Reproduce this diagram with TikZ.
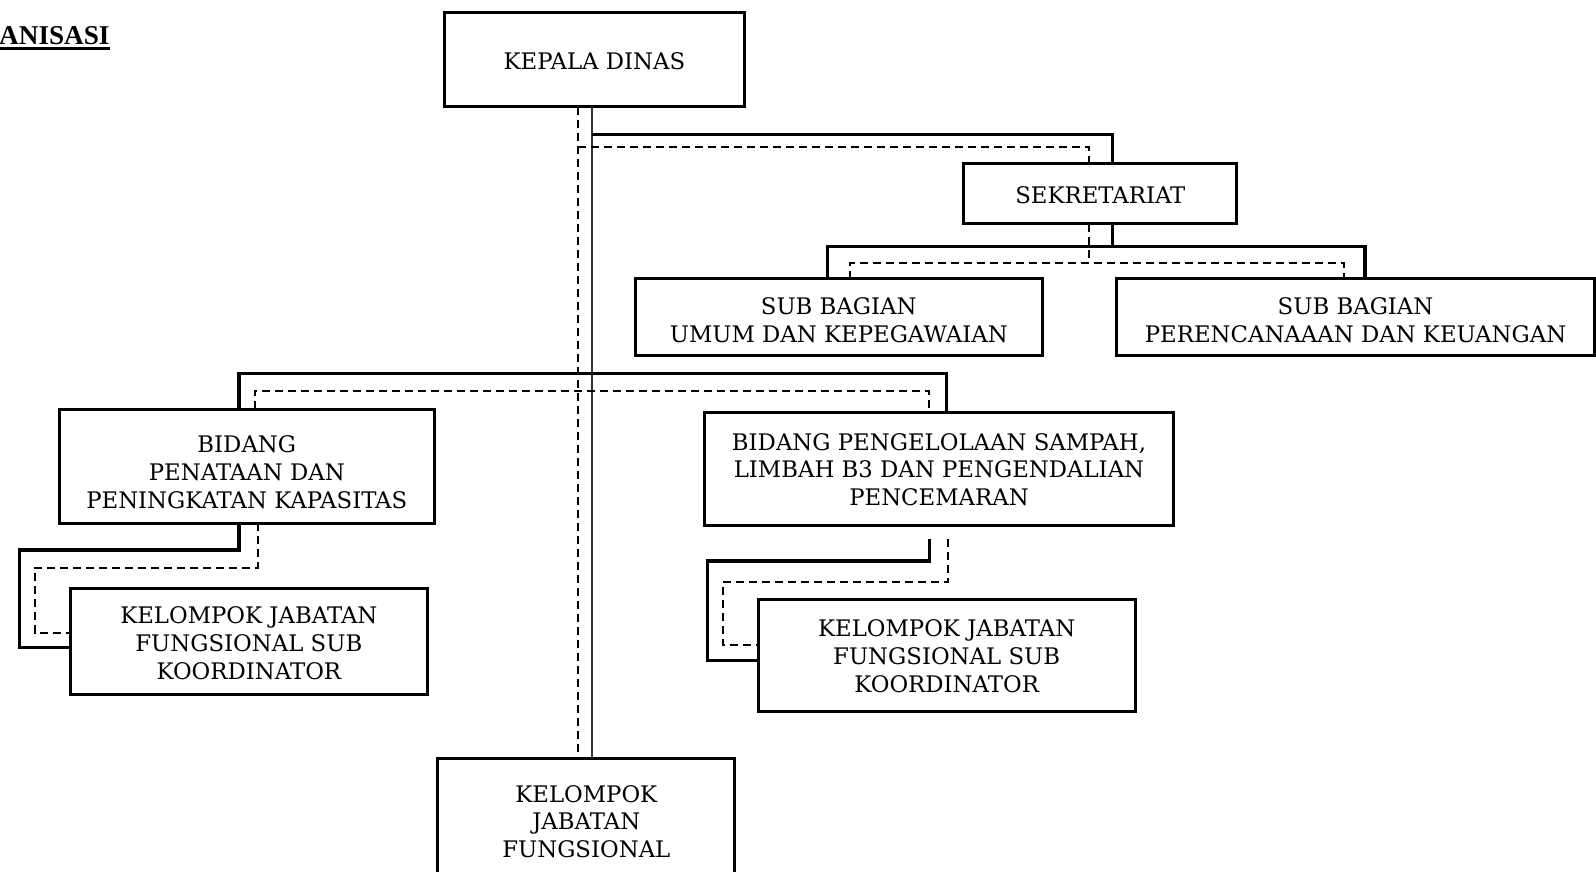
\documentclass[tikz,border=0pt]{standalone}
\usepackage{fontspec}
\setmainfont{DejaVu Serif}
\newfontfamily\titlefont{Liberation Serif}
\newcommand\obox[6]{\node[box, minimum width={(#4-#2)*0.5pt}, minimum height={(#5-#3)*0.5pt}] (#1) at (#2,#3) {#6};}
% invisible strut that moves the centred text down by #1 picture pixels
\newcommand\dn[1]{\rule{0pt}{\dimexpr\fontcharht\font`B+#1pt\relax}}
\begin{document}
\begin{tikzpicture}[x=0.5pt,y=-0.5pt,
  box/.style={draw, line width=1.5pt, align=center, inner sep=0pt, outer sep=0pt, anchor=north west,
    font=\fontsize{11.4}{13.9}\selectfont},
  bus/.style={line width=1.8pt},
  dbus/.style={line width=1pt, dash pattern=on 4pt off 2.5pt},
  mainline/.style={line width=1pt, black!80}]
\fill[white] (0,0) rectangle (1596,872);
\useasboundingbox (0,0) rectangle (1596,872);

% title
\node[anchor=base east, inner sep=0pt, font=\titlefont\bfseries\fontsize{13.6}{16}\selectfont] (title) at (110,44.5) {ORGANISASI};
\draw[line width=1.4pt] ([yshift=-2.2pt]title.base west) -- ([yshift=-2.2pt]title.base east);

% boxes
\obox{kepala}{444.8}{12.2}{744.1}{106.9}{\dn{2}KEPALA DINAS}
\obox{sek}{963.9}{163.9}{1236.8}{223.9}{\dn{1}SEKRETARIAT}
\obox{sbu}{635.2}{278.9}{1042.3}{355.2}{\dn{3}SUB BAGIAN\\UMUM DAN KEPEGAWAIAN}
\obox{sbp}{1116.6}{278.9}{1594.5}{355.2}{\dn{3}SUB BAGIAN\\PERENCANAAAN DAN KEUANGAN}
\obox{bp}{59.0}{409.2}{434.6}{523.2}{\dn{6}BIDANG\\PENATAAN DAN\\PENINGKATAN KAPASITAS}
\obox{bs}{704.4}{412.3}{1173.6}{525.2}{\dn{1}BIDANG PENGELOLAAN SAMPAH,\\LIMBAH B3 DAN PENGENDALIAN\\PENCEMARAN}
\obox{kl}{70.2}{588.3}{427.5}{694.2}{\dn{2}KELOMPOK JABATAN\\FUNGSIONAL SUB\\KOORDINATOR}
\obox{kr}{758.3}{599.5}{1135.0}{711.5}{\dn{1}KELOMPOK JABATAN\\FUNGSIONAL SUB\\KOORDINATOR}
\obox{kjf}{437.7}{758.3}{734.9}{884.7}{KELOMPOK\\JABATAN\\FUNGSIONAL}

% helper coordinates
\coordinate (mS) at (592.4,0);
\coordinate (mD) at (578.2,0);
\coordinate (b1) at (592.4,134.4);
\coordinate (d1) at (578.2,146.6);
\coordinate (sS) at (1112.3,0);
\coordinate (sD) at (1089.1,0);
\coordinate (s2) at (1112.3,246.3);
\coordinate (d2) at (1089.1,262.6);
\coordinate (uS) at (827.6,246.3);
\coordinate (pS) at (1365.0,246.3);
\coordinate (uD) at (850.0,262.6);
\coordinate (pD) at (1343.6,262.6);
\coordinate (lS) at (239.2,373.6);
\coordinate (rS) at (946.6,373.6);
\coordinate (lD) at (254.5,390.9);
\coordinate (rD) at (929.3,390.9);
\coordinate (la) at (239.2,549.7);
\coordinate (lb) at (19.3,647.4);
\coordinate (lc) at (257.5,568.0);
\coordinate (ld) at (34.6,633.1);
\coordinate (ra) at (929.3,560.9);
\coordinate (rb) at (707.4,660.6);
\coordinate (rc) at (947.7,582.2);
\coordinate (rd) at (722.7,645.4);

% main vertical lines
\draw[mainline] (kepala.south -| mS) -- (kjf.north -| mS);
\draw[dbus] (kepala.south -| mD) -- (kjf.north -| mD);

% to sekretariat
\draw[bus] (b1) -| (sek.north -| sS);
\draw[dbus] (d1) -| (sek.north -| sD);

% sekretariat to sub bagian
\draw[bus] (sek.south -| sS) -- (s2);
\draw[bus] (sbu.north -| uS) -- (uS) -- (pS) -- (sbp.north -| pS);
\draw[dbus] (sek.south -| sD) -- (d2);
\draw[dbus] (sbu.north -| uD) -- (uD) -- (pD) -- (sbp.north -| pD);

% bidang bus
\draw[bus] (bp.north -| lS) -- (lS) -- (rS) -- (bs.north -| rS);
\draw[dbus] (bp.north -| lD) -- (lD) -- (rD) -- (bs.north -| rD);

% left kelompok
\draw[bus] (bp.south -| la) -- (la) -| (lb) -- (kl.west |- lb);
\draw[dbus] (bp.south -| lc) -- (lc) -| (ld) -- (kl.west |- ld);

% right kelompok
\draw[bus] ([yshift=-7pt]bs.south -| ra) -- (ra) -| (rb) -- (kr.west |- rb);
\draw[dbus] ([yshift=-7pt]bs.south -| rc) -- (rc) -| (rd) -- (kr.west |- rd);
\end{tikzpicture}
\end{document}
